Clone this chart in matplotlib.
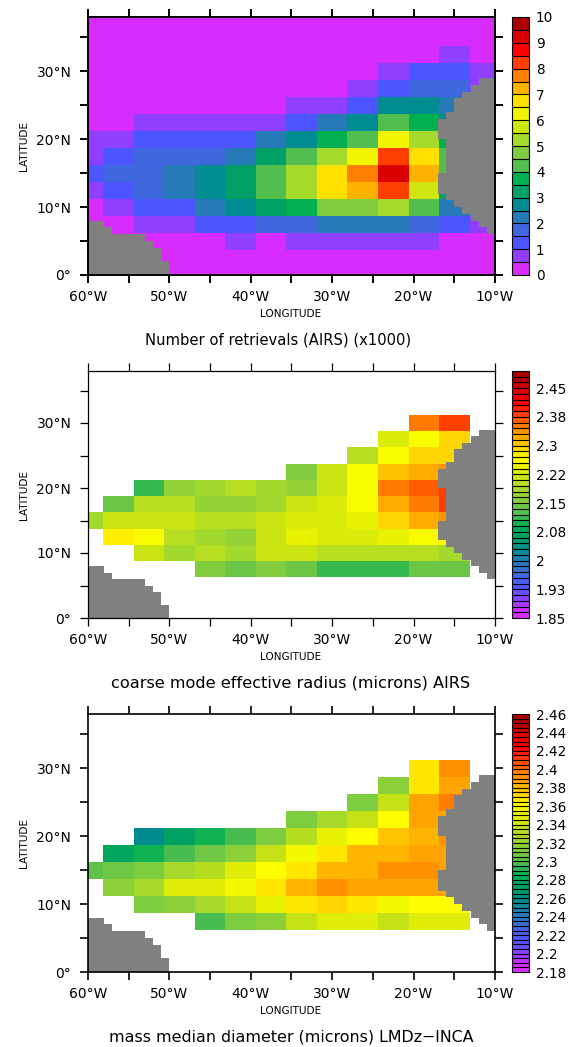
#!/usr/bin/env python
"""Three stacked lon/lat maps of dust retrievals over the tropical Atlantic."""
import matplotlib

matplotlib.use("Agg")
import matplotlib.pyplot as plt
import numpy as np
from matplotlib.cm import ScalarMappable
from matplotlib.colors import BoundaryNorm, LinearSegmentedColormap, ListedColormap

W, H = 571, 1047
N = np.nan

# grid cell edges
lon_edges = [-60, -58.125, -54.375, -50.625, -46.875, -43.125, -39.375, -35.625,
             -31.875, -28.125, -24.375, -20.625, -16.875, -13.125, -10]
lat_edges = [0, 1.25, 3.75, 6.25, 8.75, 11.25, 13.75, 16.25, 18.75, 21.25,
             23.75, 26.25, 28.75, 31.25, 33.75, 36.25, 38]

# rows run south to north, columns west to east
airs_count = [
    [.2, .2, .2, .2, .2, .2, .2, .2, .2, .2, .2, .2, .2, .2],
    [.2, .2, .2, .2, .2, .2, .2, .2, .2, .2, .2, .2, .2, .2],
    [.2, .2, .2, .2, .2, .8, .2, .8, .8, .8, .8, .8, .2, .2],
    [.2, .2, .8, .8, 1.2, 1.2, 1.8, 1.8, 2.2, 2.2, 2.2, 1.8, 1.2, .8],
    [.2, .8, 1.2, 1.2, 2.2, 2.8, 3.2, 3.8, 4.8, 4.8, 5.2, 4.2, 2.2, 1.8],
    [.8, 1.2, 1.8, 2.2, 2.8, 3.2, 4.2, 5.2, 6.8, 7.2, 8.2, 5.8, 3.2, 1.8],
    [1.2, 1.8, 1.8, 2.2, 2.8, 3.2, 4.2, 5.2, 6.8, 7.8, 9.2, 7.2, 4.2, 1.8],
    [.8, 1.2, 1.8, 1.8, 1.8, 2.2, 3.2, 4.2, 5.2, 6.2, 8.2, 6.8, 4.2, 1.8],
    [.8, .8, 1.2, 1.2, 1.2, 1.2, 2.2, 2.8, 3.8, 4.2, 6.2, 5.2, 3.8, 1.8],
    [.2, .2, .8, .8, .8, .8, .8, 1.2, 2.2, 2.8, 4.2, 3.8, 2.8, 1.8],
    [.2, .2, .2, .2, .2, .2, .2, .8, .8, 1.2, 2.8, 2.8, 2.2, 1.8],
    [.2, .2, .2, .2, .2, .2, .2, .2, .2, .8, 1.2, 1.8, 1.8, .8],
    [.2, .2, .2, .2, .2, .2, .2, .2, .2, .2, .8, 1.2, 1.2, .8],
    [.2, .2, .2, .2, .2, .2, .2, .2, .2, .2, .2, .2, .8, .2],
    [.2, .2, .2, .2, .2, .2, .2, .2, .2, .2, .2, .2, .2, .2],
    [.2, .2, .2, .2, .2, .2, .2, .2, .2, .2, .2, .2, .2, .2],
]

airs_radius = [
    [N] * 14,
    [N] * 14,
    [N] * 14,
    [N, N, N, N, 2.159, 2.142, 2.159, 2.142, 2.11, 2.11, 2.11, 2.142, 2.142, N],
    [N, N, 2.22, 2.191, 2.207, 2.191, 2.22, 2.22, 2.207, 2.207, 2.207, 2.207, 2.191, N],
    [N, 2.27, 2.256, 2.2, 2.191, 2.175, 2.22, 2.25, 2.235, 2.235, 2.25, 2.262, 2.262, N],
    [2.191, 2.22, 2.22, 2.22, 2.207, 2.207, 2.22, 2.235, 2.235, 2.25, 2.292, 2.325, 2.34, N],
    [N, 2.142, 2.2, 2.2, 2.175, 2.175, 2.191, 2.22, 2.235, 2.262, 2.325, 2.356, 2.378, N],
    [N, N, 2.11, 2.175, 2.191, 2.207, 2.191, 2.175, 2.22, 2.262, 2.354, 2.365, 2.378, N],
    [N, N, N, N, N, N, N, 2.159, 2.22, 2.262, 2.305, 2.325, 2.33, N],
    [N, N, N, N, N, N, N, N, N, 2.207, 2.256, 2.292, 2.292, N],
    [N, N, N, N, N, N, N, N, N, N, 2.235, 2.262, 2.292, N],
    [N, N, N, N, N, N, N, N, N, N, N, 2.354, 2.378, N],
    [N] * 14,
    [N] * 14,
    [N] * 14,
]

inca_diameter = [
    [N] * 14,
    [N] * 14,
    [N] * 14,
    [N, N, N, N, 2.299, 2.313, 2.32, 2.338, 2.345, 2.345, 2.338, 2.348, 2.348, N],
    [N, N, 2.313, 2.32, 2.327, 2.338, 2.352, 2.365, 2.37, 2.365, 2.358, 2.362, 2.362, N],
    [N, 2.32, 2.325, 2.345, 2.348, 2.358, 2.369, 2.383, 2.39, 2.387, 2.387, 2.387, 2.387, N],
    [2.302, 2.306, 2.313, 2.327, 2.33, 2.345, 2.362, 2.369, 2.383, 2.383, 2.39, 2.39, 2.387, N],
    [N, 2.278, 2.285, 2.299, 2.306, 2.32, 2.338, 2.355, 2.369, 2.38, 2.383, 2.387, 2.387, N],
    [N, N, 2.258, 2.271, 2.285, 2.299, 2.313, 2.33, 2.352, 2.362, 2.376, 2.383, 2.39, N],
    [N, N, N, N, N, N, N, 2.313, 2.327, 2.338, 2.362, 2.387, 2.387, N],
    [N, N, N, N, N, N, N, N, N, 2.313, 2.338, 2.387, 2.395, N],
    [N, N, N, N, N, N, N, N, N, N, 2.316, 2.369, 2.385, N],
    [N, N, N, N, N, N, N, N, N, N, N, 2.369, 2.39, N],
    [N] * 14,
    [N] * 14,
    [N] * 14,
]

# land mask, 1 degree bands: western limit of Africa, eastern limit of South America
land_band_lat = list(range(0, 29))
africa_west = [None] * 6 + [-11, -12, -13, -14, -15, -16, -17, -17, -17, -16, -16, -16, -16, -16,
                            -17, -17, -17, -16, -15, -15, -14, -13, -12]
america_east = [-50, -50, -51, -51, -52, -53, -57, -58] + [None] * 21

count_labels = ["0", "1", "2", "3", "4", "5", "6", "7", "8", "9", "10"]
radius_labels = ["1.85", "1.93", "2", "2.08", "2.15", "2.22", "2.3", "2.38", "2.45"]
diameter_labels = ["2.18", "2.2", "2.22", "2.24", "2.26", "2.28", "2.3", "2.32", "2.34",
                   "2.36", "2.38", "2.4", "2.42", "2.44", "2.46"]

titles = ["Number of retrievals (AIRS) (x1000)",
          "coarse mode effective radius (microns) AIRS",
          "mass median diameter (microns) LMDz\u2212INCA"]

anchors = ["#d82cff", "#8f3fff", "#4d55ff", "#3f68dd", "#277ab8", "#008c90", "#00a066",
           "#00b050", "#52be4e", "#7fcc3f", "#a5d92c", "#cfe50f", "#f0f500", "#ffe000",
           "#ffb400", "#ff8000", "#ff4000", "#ff0000", "#dc0000", "#aa0000"]
LAND = "#808080"


def make_cmap(n):
    stops = [(0, anchors[0])] + [((i + .5) / 20, c) for i, c in enumerate(anchors)] + [(1, anchors[-1])]
    stops.append((.65, "#ffff00"))  # pure yellow sits between two of the 20 coarse cells
    base = LinearSegmentedColormap.from_list("ferret", sorted(stops), N=512)
    return ListedColormap([base((i + .5) / n) for i in range(n)])


def px_axes(fig, x0, x1, top, bottom):
    return fig.add_axes([x0 / W, 1 - bottom / H, (x1 - x0) / W, (bottom - top) / H])


def draw_land(ax):
    for lat, west, east in zip(land_band_lat, africa_west, america_east):
        if west is not None:
            ax.fill_between([west, -10], lat, lat + 1, color=LAND, lw=0, antialiased=False, zorder=3)
        if east is not None:
            ax.fill_between([-60, east], lat, lat + 1, color=LAND, lw=0, antialiased=False, zorder=3)


def panel(fig, values, levels, labels, label_step, title, title_x, title_size, top, bottom, lw):
    cmap = make_cmap(len(levels) - 1)
    norm = BoundaryNorm(levels, cmap.N)
    ax = px_axes(fig, 88, 495, top, bottom)
    ax.pcolormesh(lon_edges, lat_edges, np.ma.masked_invalid(values), cmap=cmap, norm=norm,
                  antialiased=False)
    draw_land(ax)
    ax.set_xlim(-60, -10)
    ax.set_ylim(0, 38)

    ax.set_xticks(np.arange(-60, -9, 5))
    ax.set_xticklabels([f"{-x}\u00b0W" if x % 10 == 0 else "" for x in range(-60, -9, 5)], fontsize=10)
    ax.set_yticks(np.arange(0, 36, 5))
    ax.set_yticklabels(["0\u00b0", "", "10\u00b0N", "", "20\u00b0N", "", "30\u00b0N", ""], fontsize=10)
    ax.tick_params(top=True, right=True, length=6, width=lw)
    ax.tick_params(axis="x", pad=5)
    ax.tick_params(axis="y", pad=6)
    for s in ax.spines.values():
        s.set_linewidth(lw)
        s.set_zorder(5)

    ax.text(291 / W, 1 - (bottom + 39) / H, "LONGITUDE", transform=fig.transFigure, fontsize=7.6,
            ha="center", va="center")
    ax.text(24 / W, 1 - (top + bottom) / 2 / H, "LATITUDE", transform=fig.transFigure, fontsize=7.6,
            rotation=90, ha="center", va="center")
    ax.text(title_x / W, 1 - (bottom + 65) / H, title, transform=fig.transFigure, fontsize=title_size,
            ha="center", va="center")

    cax = px_axes(fig, 512, 529, top, bottom)
    cb = fig.colorbar(ScalarMappable(norm=norm, cmap=cmap), cax=cax, drawedges=True, spacing="proportional")
    cb.dividers.set_color("black")
    cb.dividers.set_linewidth(.8)
    cb.outline.set_linewidth(.8)
    cb.set_ticks(levels[::label_step][:len(labels)], labels=labels)
    cb.ax.tick_params(length=0, pad=5, labelsize=9.8)
    cb.ax.minorticks_off()


def main():
    fig = plt.figure(figsize=(W / 100, H / 100), dpi=100)
    panel(fig, airs_count, np.linspace(0, 10, 21), count_labels, 2, titles[0], 278, 10.6, 17, 275, 1.4)
    panel(fig, airs_radius, np.linspace(1.85, 2.495, 44), radius_labels, 5, titles[1], 291, 11.6, 371, 618, .9)
    panel(fig, inca_diameter, np.linspace(2.18, 2.46, 57), diameter_labels, 4, titles[2], 291, 11.4, 714, 972, 1.2)
    fig.savefig("out.png", dpi=100)
    plt.close(fig)


if __name__ == "__main__":
    main()
